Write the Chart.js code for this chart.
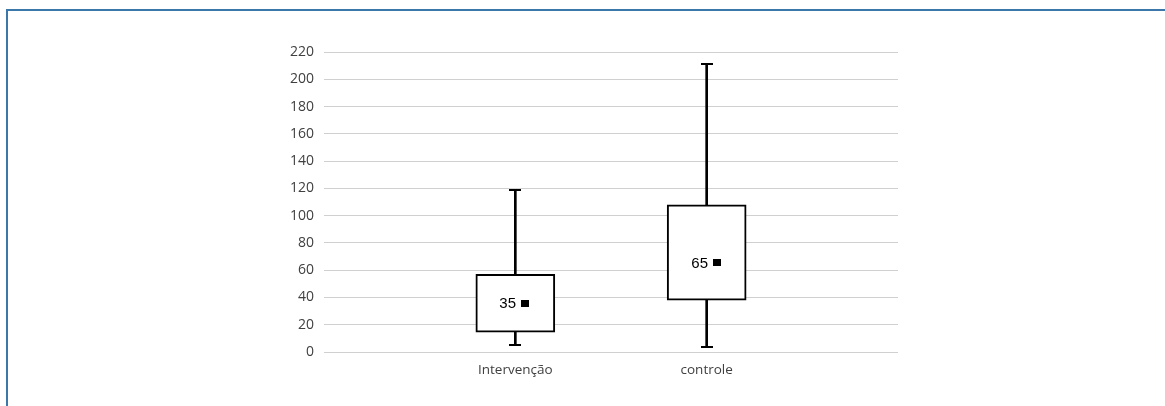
<!DOCTYPE html>
<html>
<head>
<meta charset="utf-8">
<script src="https://cdn.jsdelivr.net/npm/chart.js@4/dist/chart.umd.min.js"></script>
<style>
  html, body { margin: 0; padding: 0; background: #ffffff; overflow: hidden; }
  #wrap { position: relative; width: 1165px; height: 406px; }
  #frame {
    position: absolute; left: 6px; top: 9px; right: -10px; bottom: -10px;
    border-top: 2px solid #3b78a9; border-left: 2px solid #3b78a9;
  }
  canvas { position: absolute; left: 0; top: 0; }
</style>
</head>
<body>
<div id="wrap">
  <div id="frame"></div>
  <canvas id="chart" width="1165" height="406"></canvas>
</div>
<script>
// Groups on the horizontal axis (empty slots pad both ends)
const categories = ['', 'Intervenção', 'controle', ''];

// Box-plot summary per group
const whiskerMin = [null, 5.5, 3.5, null];
const quartile1  = [null, 14.5, 38, null];
const quartile3  = [null, 57, 108, null];
const whiskerMax = [null, 119, 211, null];
const centerValue = [null, 35, 65, null];

// Vertical axis
const yMin = 0;
const yMax = 220;
const yStep = 20;

const boxData = categories.map((_, i) => quartile1[i] == null ? null : [quartile1[i], quartile3[i]]);
const whiskerData = categories.map((_, i) => whiskerMin[i] == null ? null : [whiskerMin[i], whiskerMax[i]]);

// Draws whisker caps, the centre marker and its value label
const boxExtras = {
  id: 'boxExtras',
  afterDatasetsDraw(chart) {
    const ctx = chart.ctx;
    const xs = chart.scales.x;
    const ys = chart.scales.y;
    ctx.save();
    ctx.strokeStyle = '#000000';
    ctx.lineWidth = 2;
    categories.forEach((c, i) => {
      if (whiskerMin[i] == null) return;
      const x = Math.round(xs.getPixelForValue(i));
      [whiskerMin[i], whiskerMax[i]].forEach(v => {
        const y = Math.round(ys.getPixelForValue(v));
        ctx.beginPath();
        ctx.moveTo(x - 6, y);
        ctx.lineTo(x + 6, y);
        ctx.stroke();
      });
      const ym = ys.getPixelForValue(centerValue[i]);
      ctx.fillStyle = '#000000';
      ctx.fillRect(x + 6, Math.round(ym) - 4, 8, 7);
      ctx.font = '15px "Liberation Sans", Arial, sans-serif';
      ctx.textAlign = 'right';
      ctx.textBaseline = 'middle';
      ctx.fillText(String(centerValue[i]), x + 1, ym);
    });
    ctx.restore();
  }
};

new Chart(document.getElementById('chart'), {
  type: 'bar',
  data: {
    labels: categories,
    datasets: [
      {
        label: 'caixa',
        data: boxData,
        backgroundColor: '#ffffff',
        borderColor: '#000000',
        borderWidth: 2,
        borderSkipped: false,
        barThickness: 79,
        grouped: false,
        order: 0
      },
      {
        label: 'bigodes',
        data: whiskerData,
        backgroundColor: '#000000',
        borderWidth: 0,
        barThickness: 2,
        grouped: false,
        order: 1
      }
    ]
  },
  options: {
    responsive: false,
    animation: false,
    devicePixelRatio: 1,
    layout: { padding: { left: 0, right: 267, top: 52, bottom: 14 } },
    plugins: { legend: { display: false }, tooltip: { enabled: false } },
    scales: {
      x: {
        offset: false,
        grid: { display: false, drawTicks: false },
        border: { display: false },
        ticks: {
          padding: 10,
          color: '#404040',
          font: { family: '"Open Sans", sans-serif', size: 13.5 },
          maxRotation: 0,
          autoSkip: false
        },
        afterFit(scale) { scale.height = 40; }
      },
      y: {
        min: yMin,
        max: yMax,
        grid: { color: '#d0d0d0', lineWidth: 1, drawTicks: false },
        border: { display: false },
        ticks: {
          stepSize: yStep,
          padding: 10,
          color: '#404040',
          font: { family: '"Open Sans", sans-serif', size: 14 }
        },
        afterFit(scale) { scale.width = 324; }
      }
    }
  },
  plugins: [boxExtras]
});
</script>
</body>
</html>
